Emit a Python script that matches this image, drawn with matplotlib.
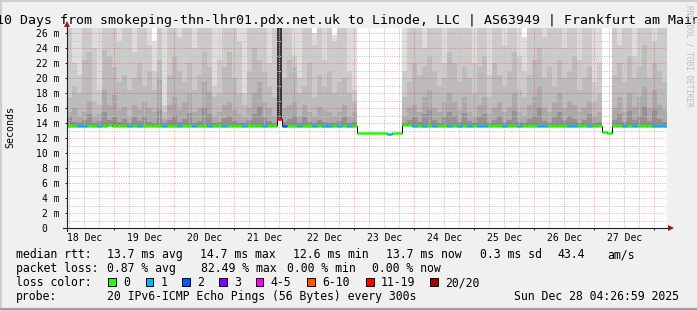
import numpy as np
import matplotlib
matplotlib.use("Agg")
import matplotlib.pyplot as plt
import matplotlib.transforms as mtransforms
from matplotlib.patches import Rectangle
from matplotlib.lines import Line2D

nan = float("nan")

title = "10 Days from smokeping-thn-lhr01.pdx.net.uk to Linode, LLC | AS63949 | Frankfurt am Main"
days = ["18 Dec", "19 Dec", "20 Dec", "21 Dec", "22 Dec",
        "23 Dec", "24 Dec", "25 Dec", "26 Dec", "27 Dec"]

# time axis in hours after 18 Dec 00:00, 2 hour bins
t_first = 5.1
bin_hours = 2.0

median_ms = [
    13.6, 13.7, 13.7, 13.7, 13.7, 13.7, 13.7, 13.7, 13.8, 13.7,
    13.7, 13.7, 13.7, 13.7, 13.7, 13.7, 13.7, 13.6, 13.7, 13.6,
    13.6, 13.6, 13.7, 13.7, 13.7, 13.7, 13.7, 13.7, 13.7, 13.7,
    13.7, 13.7, 13.7, 13.7, 13.7, 13.7, 13.7, 13.7, 13.7, 13.7,
    13.7, 13.7, 14.6, 13.7, 13.7, 13.7, 13.7, 13.7, 13.7, 13.7,
    13.7, 13.7, 13.7, 13.7, 13.7, 13.7, 13.7, 13.7, 12.7, 12.65,
    12.7, 12.7, 12.7, 12.65, 12.6, 12.7, 12.75, 13.8, 13.8, 13.7,
    13.7, 13.7, 13.7, 13.7, 13.7, 13.7, 13.7, 13.7, 13.7, 13.7,
    13.7, 13.7, 13.7, 13.7, 13.7, 13.7, 13.7, 13.7, 13.7, 13.7,
    13.7, 13.7, 13.7, 13.7, 13.7, 13.7, 13.7, 13.7, 13.7, 13.7,
    13.7, 13.7, 13.7, 13.7, 13.7, 13.7, 13.7, 12.8, 12.75, 13.7,
    13.7, 13.7, 13.7, 13.7, 13.7, 13.7, 13.7, 13.7, 13.7, 13.7,
]

loss = [
    0, 0, 1, 1, 0, 0, 1, 0, 0, 0,
    0, 0, 1, 0, 1, 0, 0, 0, 0, 1,
    0, 0, 1, 0, 0, 1, 0, 0, 1, 0,
    0, 1, 0, 0, 0, 1, 0, 0, 0, 1,
    0, 0, 15, 2, 0, 0, 1, 0, 0, 1,
    0, 1, 1, 0, 1, 0, 1, 0, 0, 0,
    0, 0, 0, 0, 1, 0, 0, 0, 0, 1,
    0, 1, 0, 1, 0, 0, 1, 0, 1, 0,
    1, 0, 1, 1, 0, 0, 0, 1, 0, 0,
    1, 0, 0, 0, 1, 1, 0, 0, 0, 0,
    1, 1, 0, 0, 1, 0, 0, 0, 0, 0,
    0, 1, 0, 1, 0, 0, 0, 1, 1, 1,
]

# smoke band tops (ms), outer band first
smoke_hi = [
    27, 27, 27, 27, 27, 27, 27, 27, 27, 27,
    27, 27, 27, 27, 27, 27, 27, 25.0, 27, 27,
    27, 27, 27, 27, 27, 27, 27, 27, 27, 27,
    27, 27, 27, 27, 27, 27, 27, 27, 27, 27,
    27, 27, 27, 27, 27, 27, 27, 27, 27, 26.0,
    27, 27, 27, 25.8, 27, 27, 27, 27, nan, nan,
    nan, nan, nan, nan, nan, nan, nan, 27, 27, 27,
    27, 27, 27, 27, 27, 27, 27, 27, 27, 27,
    27, 27, 27, 27, 27, 27, 27, 27, 27, 27,
    27, 25.5, 27, 27, 27, 27, 27, 27, 27, 27,
    27, 27, 27, 27, 27, 27, 27, nan, nan, 27,
    27, 27, 27, 27, 27, 27, 27, 27, 27, 27,
]

smoke_mid = [
    27, 22.0, 20.5, 27, 27, 24.0, 18.5, 27, 27, 27,
    25.0, 27, 27, 23.5, 27, 27, 24.5, 21.0, 27, 16.5,
    27, 27, 25.5, 27, 27, 24.0, 27, 27, 27, 19.0,
    22.5, 27, 27, 27, 25.0, 18.0, 27, 27, 27, 27,
    22.0, 27, 27, 27, 27, 23.0, 20.0, 27, 27, 24.5,
    27, 22.5, 27, 25.0, 27, 27, 21.0, 18.5, nan, nan,
    nan, nan, nan, nan, nan, nan, nan, 21.0, 27, 27,
    27, 24.0, 27, 27, 27, 22.0, 27, 27, 27, 27,
    27, 22.0, 27, 27, 20.5, 27, 27, 24.5, 27, 27,
    23.0, 21.0, 27, 27, 27, 25.5, 27, 27, 27, 24.0,
    27, 27, 22.5, 27, 27, 19.5, 22.0, nan, nan, 27,
    24.5, 27, 27, 23.0, 27, 27, 27, 25.0, 27, 27,
]

smoke_lo = [
    17.5, 19.0, 18.0, 22.5, 23.5, 17.0, 16.5, 23.8, 23.0, 21.5,
    19.5, 20.5, 18.5, 20.0, 22.0, 19.0, 21.0, 18.5, 22.5, 15.5,
    20.5, 23.0, 21.0, 19.5, 22.0, 18.5, 20.5, 23.5, 21.5, 17.5,
    18.0, 21.5, 23.5, 20.0, 18.0, 16.5, 21.0, 24.0, 22.5, 21.0,
    19.0, 17.5, 27, 20.0, 22.5, 21.5, 18.0, 19.0, 22.0, 17.5,
    20.5, 19.0, 21.0, 18.0, 19.5, 20.0, 18.0, 17.0, nan, nan,
    nan, nan, nan, nan, nan, nan, nan, 17.5, 19.5, 22.0,
    20.5, 21.5, 23.0, 21.0, 19.0, 20.0, 23.5, 22.0, 19.5, 21.5,
    20.0, 18.0, 21.5, 23.0, 17.5, 22.0, 20.5, 19.0, 21.0, 23.5,
    18.5, 17.5, 20.5, 22.5, 24.0, 20.0, 21.5, 19.0, 22.5, 20.0,
    21.0, 23.0, 18.5, 20.0, 21.5, 17.0, 18.0, nan, nan, 20.5,
    22.0, 19.5, 23.0, 20.0, 21.5, 24.5, 20.0, 22.0, 21.0, 19.5,
]

smoke_dk = [
    15.5, 16.0, 14.8, 15.5, 17.0, 15.0, 15.2, 18.5, 16.5, 17.8,
    15.8, 16.2, 15.0, 16.5, 15.8, 17.0, 16.0, 15.5, 19.8, 14.6,
    16.5, 17.5, 15.8, 16.8, 18.0, 15.5, 16.0, 19.5, 18.2, 15.0,
    15.5, 16.5, 17.0, 15.8, 15.2, 14.8, 16.0, 18.0, 19.5, 17.0,
    16.0, 15.0, 27, 16.0, 16.5, 17.0, 15.0, 16.5, 15.5, 15.0,
    16.2, 15.8, 15.5, 15.0, 15.5, 16.5, 15.0, 15.5, nan, nan,
    nan, nan, nan, nan, nan, nan, nan, 15.0, 16.0, 16.5,
    15.5, 17.5, 18.5, 16.0, 15.5, 16.8, 18.0, 17.0, 15.8, 17.5,
    15.5, 15.0, 16.5, 17.5, 15.2, 16.0, 17.0, 15.5, 16.2, 18.0,
    15.5, 15.0, 16.5, 17.5, 19.0, 16.0, 15.5, 16.8, 18.0, 16.0,
    17.0, 16.5, 15.5, 16.0, 17.0, 15.0, 15.5, nan, nan, 16.0,
    17.5, 15.5, 18.0, 16.2, 17.5, 19.0, 16.0, 18.5, 16.5, 15.8,
]

smoke_core = [
    14.8, 14.2, 14.0, 14.5, 15.2, 14.1, 14.3, 15.5, 14.4, 14.9,
    14.2, 14.6, 14.0, 14.8, 14.3, 15.0, 14.2, 14.0, 15.8, 14.0,
    14.4, 15.0, 14.2, 14.6, 15.4, 14.1, 14.3, 16.0, 15.2, 14.0,
    14.2, 14.7, 15.0, 14.3, 14.1, 14.0, 14.5, 15.3, 16.2, 14.8,
    14.3, 14.0, 27, 14.2, 14.6, 15.0, 14.0, 14.8, 14.2, 14.0,
    14.5, 14.2, 14.1, 14.0, 14.3, 14.9, 14.0, 14.2, nan, nan,
    nan, nan, nan, nan, nan, nan, nan, 14.0, 14.4, 14.9,
    14.2, 15.3, 15.8, 14.5, 14.1, 14.8, 15.5, 15.0, 14.2, 15.4,
    14.3, 14.0, 14.8, 15.2, 14.1, 14.4, 15.0, 14.2, 14.5, 15.6,
    14.2, 14.0, 14.6, 15.0, 16.0, 14.3, 14.1, 14.9, 15.5, 14.4,
    15.0, 14.6, 14.1, 14.5, 15.2, 14.0, 14.2, nan, nan, 14.4,
    15.3, 14.2, 15.6, 14.5, 15.0, 16.2, 14.3, 15.8, 14.6, 14.2,
]

loss_labels = ["0", "1", "2", "3", "4-5", "6-10", "11-19", "20/20"]
loss_upper = [0, 1, 2, 3, 5, 10, 19, 20]
loss_colors = ["#26ff00", "#00b8ff", "#0059ff", "#7e00ff",
               "#ff00ff", "#ff5500", "#ff0000", "#a00000"]

rtt_stats = ["13.7 ms avg", "14.7 ms max", "12.6 ms min", "13.7 ms now",
             "0.3 ms sd", "43.4", "am/s"]
loss_stats = ["0.87 % avg", "82.49 % max", "0.00 % min", "0.00 % now"]
probe_text = "20 IPv6-ICMP Echo Pings (56 Bytes) every 300s"
stamp = "Sun Dec 28 04:26:59 2025"

W, H = 697, 310
MONO = "DejaVu Sans Mono"


def fx(x):
    return x / W


def fy(y):
    return 1 - y / H


fig = plt.figure(figsize=(W / 100, H / 100), dpi=100, facecolor="#f0f0f0")

ax = fig.add_axes([fx(67), fy(228.3), 600 / W, 200.3 / H])
ax.set_facecolor("white")

median = np.array(median_ms)
loss_arr = np.array(loss)
n = len(median)
edges = t_first + bin_hours * np.arange(n + 1)
centers = (edges[:-1] + edges[1:]) / 2

# smoke, light layers first; darker shades where loss is high
layers = [(smoke_hi, "#dddddd", "#666666"),
          (smoke_mid, "#cbcbcb", "#555555"),
          (smoke_lo, "#bbbbbb", "#4a4a4a"),
          (smoke_dk, "#aaaaaa", "#424242"),
          (smoke_core, "#929292", "#3a3a3a")]
for tops, col, dark in layers:
    tops = np.array(tops, dtype=float)
    cols = np.where(loss_arr >= 11, dark, col)
    ax.bar(centers, tops - median, bottom=median, width=bin_hours,
           color=cols, linewidth=0, antialiased=False, zorder=1)

# median line coloured by loss
idx = np.searchsorted(loss_upper, loss_arr)
seg_colors = [loss_colors[k] for k in idx]
ax.stairs(median, edges, baseline=None, color="black", lw=0.7, zorder=4)
ax.hlines(median, edges[:-1], edges[1:], colors=seg_colors, lw=1.8,
          capstyle="butt", zorder=5)

ax.set_xlim(t_first, t_first + 240)
ax.set_ylim(0, 26.7)

midnights = 24 * np.arange(1, len(days) + 1)
ax.set_xticks(midnights)
ax.set_xticklabels([])
ax.set_xticks(np.arange(6, 246, 6), minor=True)
yt = np.arange(0, 27, 2)
ax.set_yticks(yt)
ax.set_yticklabels(["0  "] + ["%d m" % v for v in yt[1:]],
                   family=MONO, fontsize=7)
ax.set_yticks(np.arange(0, 27, 1), minor=True)
ax.tick_params(which="major", length=1.5, width=0.7, color="#202020", pad=4)
ax.tick_params(which="minor", length=0)

ax.set_axisbelow(False)
ax.grid(which="major", color="#ff0000", alpha=0.3, lw=0.7, ls=(0, (1.2, 1.2)))
ax.grid(which="minor", color="#c4c4c4", lw=0.7, ls=(0, (1.2, 1.2)))
for s in ax.spines.values():
    s.set_visible(False)

trans = mtransforms.blended_transform_factory(ax.transData, fig.transFigure)
for k, d in enumerate(days):
    ax.text(12 + 24 * k, fy(241), d, transform=trans, ha="center",
            va="baseline", family=MONO, fontsize=7)

# axes lines with arrows
fig.add_artist(Line2D([fx(63), fx(670)], [fy(228.3), fy(228.3)],
                      color="#202020", lw=0.8))
fig.add_artist(Line2D([fx(67), fx(67)], [fy(231), fy(23)],
                      color="#202020", lw=0.8))
fig.add_artist(Line2D([fx(67)], [fy(24)], marker="^", ms=4, color="#9a1a1a",
                      markeredgewidth=0))
fig.add_artist(Line2D([fx(671)], [fy(228.3)], marker=">", ms=4, color="#9a1a1a",
                      markeredgewidth=0))

fig.text(fx(348.5), fy(24), title, ha="center", va="baseline",
         family=MONO, fontsize=9.5)
fig.text(fx(10), fy(127), "Seconds", rotation=90, ha="center", va="center",
         family=MONO, fontsize=7.2)
fig.text(fx(688.5), fy(5), "RRDTOOL / TOBI OETIKER", rotation=270,
         ha="center", va="top", family=MONO, fontsize=5.6, color="#bcbcbc")

# legend
fs = 8.3
fig.text(fx(16), fy(258.3), "median rtt:", family=MONO, fontsize=fs, va="baseline")
for x, s in zip([107.3, 200, 293.3, 386.3, 479.7, 557.7, 607], rtt_stats):
    fig.text(fx(x), fy(258.3), s, family=MONO, fontsize=fs, va="baseline")
fig.text(fx(16), fy(272.3), "packet loss:", family=MONO, fontsize=fs, va="baseline")
for x, s in zip([107.3, 200.7, 286.7, 372], loss_stats):
    fig.text(fx(x), fy(272.3), s, family=MONO, fontsize=fs, va="baseline")
fig.text(fx(16), fy(286.3), "loss color:", family=MONO, fontsize=fs, va="baseline")
sq_x = [108.3, 145.7, 182.3, 219, 255.7, 307.3, 366, 430.3]
for x, lab, col in zip(sq_x, loss_labels, loss_colors):
    fig.add_artist(Rectangle((fx(x), fy(285.7)), 7.5 / W, 8 / H,
                             facecolor=col, edgecolor="black", lw=0.7,
                             transform=fig.transFigure))
    fig.text(fx(x + 15), fy(286.3), lab, family=MONO, fontsize=fs, va="baseline")
fig.text(fx(16), fy(300.3), "probe:", family=MONO, fontsize=fs, va="baseline")
fig.text(fx(107.3), fy(300.3), probe_text, family=MONO, fontsize=fs, va="baseline")
fig.text(fx(513.7), fy(300.3), stamp, family=MONO, fontsize=fs, va="baseline")

# 3d frame
fig.add_artist(Line2D([0, 1], [fy(1), fy(1)], color="#cfcfcf", lw=1.5))
fig.add_artist(Line2D([fx(1), fx(1)], [0, 1], color="#cfcfcf", lw=1.5))
fig.add_artist(Line2D([0, 1], [fy(309), fy(309)], color="#9e9e9e", lw=1.5))

fig.savefig("out.png", dpi=100, facecolor=fig.get_facecolor())
